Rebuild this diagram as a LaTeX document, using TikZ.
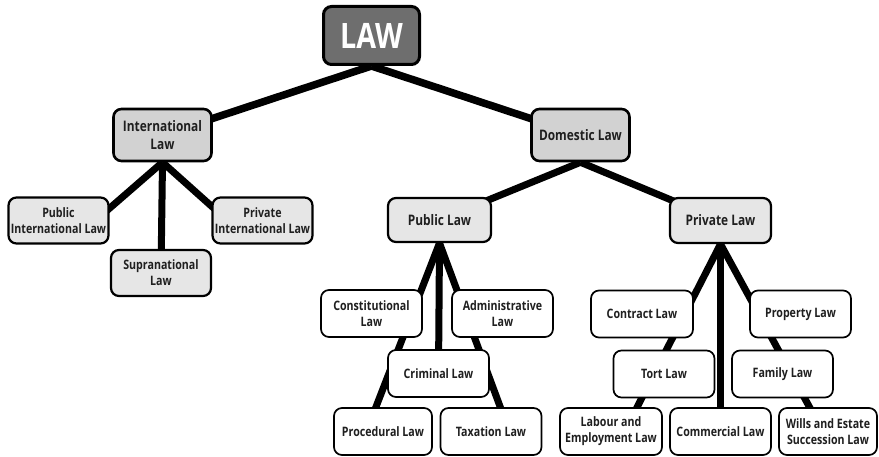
\documentclass[tikz,border=0pt]{standalone}
\usepackage{fontspec}
\setmainfont{Open Sans}[FakeStretch=0.82]
\usetikzlibrary{backgrounds}
\definecolor{lawgray}{HTML}{6E6E6E}
\definecolor{midgray}{HTML}{D2D2D2}
\definecolor{lightgray}{HTML}{E6E6E6}
\tikzset{
  box/.style={draw=black, rounded corners=8pt, inner sep=0pt, align=center,
    font=\bfseries\fontsize{13}{16}\selectfont, text=black!88},
  topbox/.style={box, fill=lawgray, line width=3pt, minimum width=96pt, minimum height=58pt,
    font=\bfseries\fontsize{35}{40}\selectfont, text=white},
  lvlone/.style={box, fill=midgray, line width=2.6pt, minimum width=98pt, minimum height=52pt,
    font=\bfseries\fontsize{14.5}{18}\selectfont},
  lvltwo/.style={box, fill=lightgray, line width=2.2pt, minimum width=100pt, minimum height=46pt},
  lvltwobig/.style={lvltwo, font=\bfseries\fontsize{14.5}{18}\selectfont},
  leaf/.style={box, fill=white, line width=1.7pt, minimum width=101pt, minimum height=47pt},
  edge/.style={line width=7pt, black},
  topedge/.style={line width=7.5pt, black}
}
\begin{document}
\begin{tikzpicture}[x=1pt,y=-1pt]
\useasboundingbox (0,0) rectangle (879,457);
% nodes
\node[topbox] (law) at (371.5,35.5) {LAW};
\node[lvlone] (intl) at (162.5,135) {International\\Law};
\node[lvlone] (dom) at (580.5,135) {Domestic Law};
\node[lvltwo] (pil) at (58.5,220.5) {Public\\International Law};
\node[lvltwo] (prl) at (262.5,220.5) {Private\\International Law};
\node[lvltwo] (supra) at (161,273) {Supranational\\Law};
\node[lvltwobig, minimum width=103pt, minimum height=44pt] (pub) at (439.5,220) {Public Law};
\node[lvltwobig, minimum width=101pt, minimum height=45pt] (priv) at (720.5,220.5) {Private Law};
\node[leaf] (const) at (371.5,313.5) {Constitutional\\Law};
\node[leaf] (admin) at (502.5,313.5) {Administrative\\Law};
\node[leaf] (crim) at (438.5,373.5) {Criminal Law};
\node[leaf, minimum width=98pt] (proc) at (383,431.5) {Procedural Law};
\node[leaf] (tax) at (491,431.5) {Taxation Law};
\node[leaf, minimum width=102pt] (contract) at (642,314) {Contract Law};
\node[leaf] (property) at (800.5,314) {Property Law};
\node[leaf] (tort) at (664,374) {Tort Law};
\node[leaf] (family) at (782.5,374) {Family Law};
\node[leaf, minimum width=102pt] (labour) at (611,431.5) {Labour and\\Employment Law};
\node[leaf] (comm) at (720.5,431.5) {Commercial Law};
\node[leaf, minimum width=98pt] (wills) at (828,431.5) {Wills and Estate\\Succession Law};
% connectors
\begin{scope}[on background layer]
\draw[topedge] (law.south) -- (intl.center);
\draw[topedge] (law.south) -- (dom.center);
\draw[edge] (intl.south) -- ([xshift=37pt]pil.center);
\draw[edge] (intl.south) -- (supra.center);
\draw[edge] (intl.south) -- ([xshift=-35pt]prl.center);
\draw[edge] (dom.south) -- (pub.center);
\draw[edge] (dom.south) -- (priv.center);
\draw[edge] (pub.south) -- ([xshift=-11pt,yshift=-10pt]proc.north);
\draw[edge] (pub.south) -- (crim.center);
\draw[edge] (pub.south) -- ([xshift=13pt,yshift=-10pt]tax.north);
\draw[edge] (priv.south) -- ([xshift=21pt,yshift=-10pt]labour.north);
\draw[edge] (priv.south) -- (comm.center);
\draw[edge] (priv.south) -- ([xshift=-13pt,yshift=-10pt]wills.north);
\end{scope}
\end{tikzpicture}
\end{document}
